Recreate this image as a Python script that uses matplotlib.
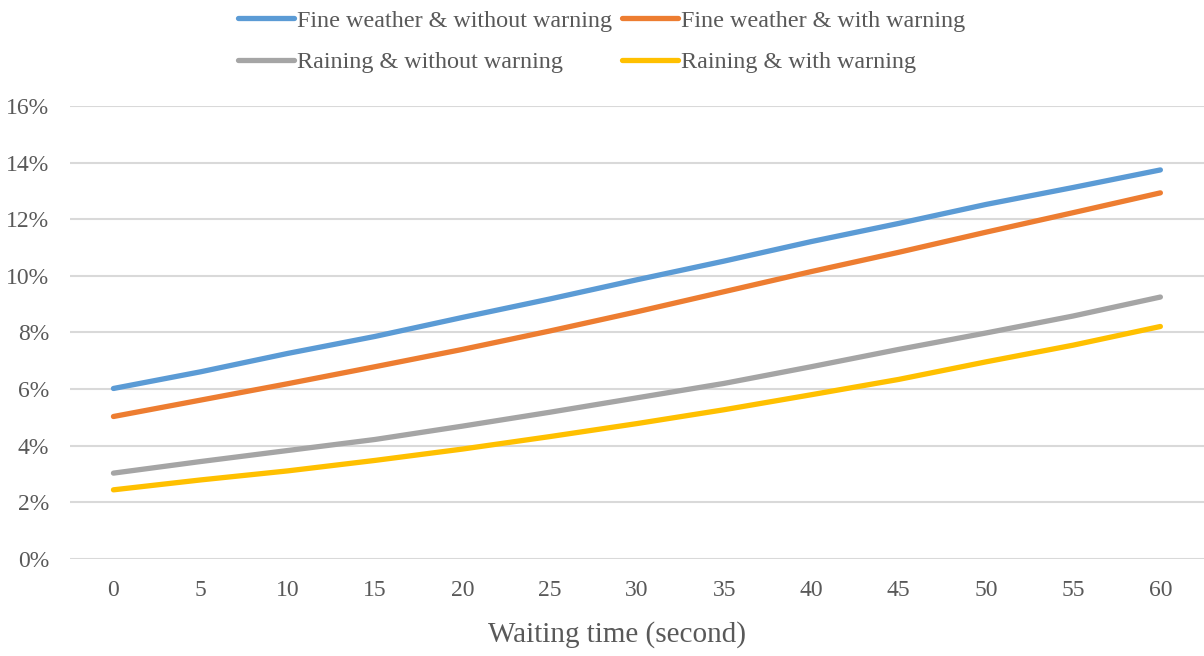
import matplotlib
matplotlib.use("Agg")
import matplotlib.pyplot as plt
from matplotlib.ticker import FuncFormatter

# waiting time (s) and predicted probability (%) for each scenario
waiting_time = [0, 5, 10, 15, 20, 25, 30, 35, 40, 45, 50, 55, 60]
fine_no_warning = [6.02, 6.61, 7.26, 7.86, 8.53, 9.18, 9.86, 10.52, 11.21, 11.85, 12.52, 13.12, 13.74]
fine_warning = [5.03, 5.61, 6.19, 6.79, 7.40, 8.05, 8.73, 9.44, 10.15, 10.83, 11.54, 12.23, 12.93]
rain_no_warning = [3.03, 3.44, 3.83, 4.22, 4.69, 5.18, 5.69, 6.20, 6.79, 7.40, 7.98, 8.58, 9.25]
rain_warning = [2.44, 2.79, 3.11, 3.48, 3.88, 4.32, 4.78, 5.27, 5.80, 6.34, 6.96, 7.55, 8.21]

series_names = [
    "Fine weather & without warning",
    "Fine weather & with warning",
    "Raining & without warning",
    "Raining & with warning",
]
series_colors = ["#5B9BD5", "#ED7D31", "#A5A5A5", "#FFC000"]
y_ticks = [0, 2, 4, 6, 8, 10, 12, 14, 16]

text_color = "#595959"
plt.rcParams["font.family"] = ["Liberation Serif", "DejaVu Serif"]

fig = plt.figure(figsize=(12.04, 6.56), dpi=100)
ax = fig.add_axes([0.058, 0.148, 0.942, 0.6905])

lines = []
for values, name, color in zip(
    [fine_no_warning, fine_warning, rain_no_warning, rain_warning], series_names, series_colors
):
    line, = ax.plot(waiting_time, values, color=color, lw=3.8, label=name,
                    solid_capstyle="round", solid_joinstyle="round", zorder=3)
    lines.append(line)

ax.set_xlim(-2.5, 62.5)
ax.set_ylim(0, 16)
ax.set_xticks(waiting_time)
ax.set_yticks(y_ticks)
ax.yaxis.set_major_formatter(FuncFormatter(lambda v, _: f"{v:.0f}%"))
ax.grid(axis="y", color="#D9D9D9", lw=1.5, zorder=0)
ax.tick_params(length=0, labelsize=17, colors=text_color)
ax.tick_params(axis="y", pad=15)
ax.tick_params(axis="x", pad=15)
for spine in ax.spines.values():
    spine.set_visible(False)

ax.set_xlabel("Waiting time (second)", fontsize=21, color=text_color)
ax.xaxis.set_label_coords(0.482, -0.137)

# legend fills column by column, so order entries to read row by row
order = [0, 2, 1, 3]
fig.legend([lines[i] for i in order], [series_names[i] for i in order],
           loc="upper center", bbox_to_anchor=(0.5, 1.018), ncol=2, frameon=False,
           fontsize=17.4, labelcolor=text_color, handlelength=2.3, handletextpad=0.15,
           columnspacing=0.4, labelspacing=0.8)

fig.savefig("out.png", dpi=100)
